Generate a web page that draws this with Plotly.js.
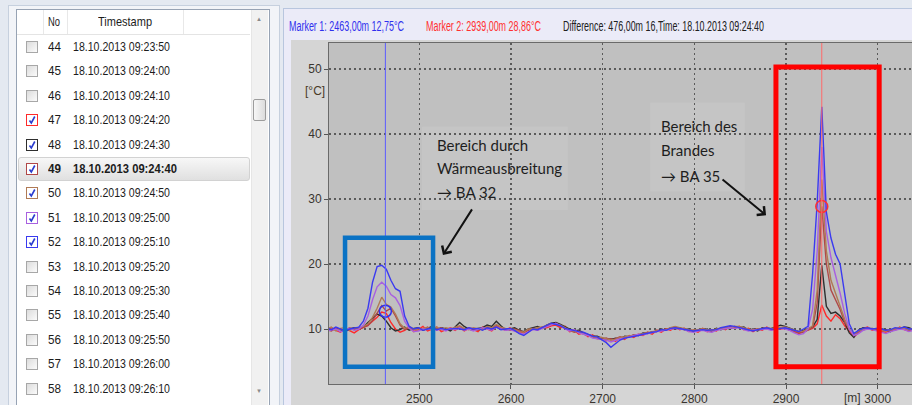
<!DOCTYPE html>
<html><head><meta charset="utf-8">
<script src="https://cdn.plot.ly/plotly-3.0.1.min.js"></script>
<style>
html,body{margin:0;padding:0;}
body{width:912px;height:405px;overflow:hidden;background:#e4e9f1;position:relative;font-family:"Liberation Sans Narrow","Arial Narrow","Liberation Sans",Arial,sans-serif;}
.abs{position:absolute;}
.fit{position:absolute;white-space:nowrap;transform-origin:0 50%;line-height:14px;height:14px;}
</style></head>
<body>
<div class="abs" style="left:8px;top:5px;width:270px;height:410px;background:#f2f4f8;border:1px solid #c6d0de;"></div>
<div class="abs" id="list" style="left:16px;top:9px;width:252px;height:400px;background:#fff;border:1px solid #97a3b4;"></div>
<div class="abs" style="left:283px;top:8px;width:640px;height:410px;background:#ebebf8;border-left:1px solid #b8c6de;border-top:1px solid #b8c6de;"></div>
<div id="plot" class="abs" style="left:291px;top:40px;width:640px;height:370px;"></div>
<script>
// ---------------- data ----------------
const rowNo = [44,45,46,47,48,49,50,51,52,53,54,55,56,57,58];
const rowTime = ["18.10.2013 09:23:50","18.10.2013 09:24:00","18.10.2013 09:24:10","18.10.2013 09:24:20","18.10.2013 09:24:30","18.10.2013 09:24:40","18.10.2013 09:24:50","18.10.2013 09:25:00","18.10.2013 09:25:10","18.10.2013 09:25:20","18.10.2013 09:25:30","18.10.2013 09:25:40","18.10.2013 09:25:50","18.10.2013 09:26:00","18.10.2013 09:26:10"];
const selectedNo = 49;
const seriesNo = [47,48,49,50,51,52];
const seriesColor = ["#ff2a2a","#2e2e2e","#b04848","#b07a55","#a860e0","#3a3af0"];

const distance = [
2399,2404,2409,2414,2419,2424,2429,2434,2439,2444,
2449,2454,2459,2464,2469,2474,2479,2484,2489,2494,
2499,2504,2509,2514,2519,2524,2529,2534,2539,2544,
2549,2554,2559,2564,2569,2574,2579,2584,2589,2594,
2599,2604,2609,2614,2619,2624,2629,2634,2639,2644,
2649,2654,2659,2664,2669,2674,2679,2684,2689,2694,
2699,2704,2709,2714,2719,2724,2729,2734,2739,2744,
2749,2754,2759,2764,2769,2774,2779,2784,2789,2794,
2799,2804,2809,2814,2819,2824,2829,2834,2839,2844,
2849,2854,2859,2864,2869,2874,2879,2884,2889,2894,
2899,2904,2909,2914,2919,2924,2929,2934,2939,2944,
2949,2954,2959,2964,2969,2974,2979,2984,2989,2994,
2999,3004,3009,3014,3019,3024,3029,3034,3039];

const temp47 = [
9.6,10.2,9.8,9.5,10.1,9.7,9.4,9.9,10.2,10.6,
11.2,11.8,12.6,12.4,11.0,10.0,9.5,9.8,10.3,9.6,
9.9,10.4,9.7,10.0,10.3,9.6,9.9,10.2,9.8,10.3,
9.7,10.1,9.9,9.6,10.3,10.0,9.7,10.4,10.1,9.8,
10.2,9.7,9.5,9.4,9.9,10.1,9.8,10.3,10.2,10.5,
10.6,10.2,10.4,9.6,9.8,9.2,9.4,8.8,9.1,8.5,
8.7,8.2,8.5,8.1,8.7,8.4,9.0,8.7,9.2,9.0,
9.5,9.2,9.8,9.5,10.0,9.8,10.3,9.9,10.1,9.6,
9.8,9.5,10.0,9.6,9.9,9.7,10.2,9.9,10.4,10.1,
10.4,9.9,10.1,9.6,10.0,9.8,10.3,9.9,10.2,10.0,
10.1,9.8,9.5,9.3,9.6,9.8,10.1,10.8,13.7,12.0,
11.2,12.2,11.6,10.5,9.6,8.8,9.4,10.1,10.3,9.8,
10.0,9.6,9.5,9.9,9.8,10.3,9.9,9.7,10.1];

const temp48 = [
10.1,9.8,10.2,9.9,9.6,10.0,10.2,10.1,10.3,11.0,
11.6,12.3,12.0,11.2,10.2,9.7,9.9,10.3,9.8,10.1,
10.2,9.8,10.1,10.4,9.9,10.2,10.0,9.7,10.3,11.0,
10.4,10.0,9.8,10.1,10.2,10.6,10.4,11.2,10.5,9.9,
10.0,10.2,9.8,9.6,10.0,10.2,10.4,10.1,10.6,10.9,
11.0,10.7,10.3,10.0,9.7,9.8,9.4,9.2,8.9,8.9,
8.6,8.5,8.4,8.6,8.5,8.9,8.8,9.1,9.0,9.4,
9.3,9.6,9.6,10.0,9.8,10.2,10.0,10.2,9.9,10.0,
9.6,9.9,9.8,10.0,9.6,10.1,9.9,10.2,10.0,10.4,
10.2,10.3,9.8,10.0,9.7,10.2,10.0,10.1,10.4,10.6,
10.4,10.1,9.8,9.6,9.8,10.0,10.3,11.5,19.8,13.5,
12.4,12.6,12.0,11.0,9.4,8.7,9.8,10.2,10.0,10.1,
9.8,10.0,9.9,9.6,10.1,10.0,10.3,10.2,9.9];

const temp49 = [
9.9,9.7,10.1,10.0,9.8,10.2,9.9,10.0,10.2,10.5,
11.3,12.5,13.6,12.75,13.2,12.0,10.6,9.9,10.2,9.9,
10.1,9.9,10.3,9.8,10.0,10.2,9.8,10.1,10.0,10.4,
9.9,10.2,10.0,9.8,10.1,10.3,10.0,10.6,10.2,10.0,
9.8,10.0,9.7,9.5,9.8,10.1,10.0,10.2,10.5,10.6,
10.9,10.4,10.1,9.9,9.5,9.7,9.2,9.0,8.8,8.6,
8.4,8.6,8.3,8.5,8.8,8.6,8.9,9.1,9.0,9.3,
9.5,9.4,9.8,9.7,10.0,10.1,10.3,10.0,10.1,9.7,
9.8,9.7,10.1,9.8,9.7,9.9,10.1,10.0,10.3,10.2,
10.3,10.0,9.8,9.9,10.0,10.1,10.2,9.9,10.0,10.2,
10.1,9.9,9.6,9.4,9.5,9.8,10.2,14.0,28.86,20.0,
16.0,14.5,13.0,11.0,9.9,9.0,9.6,9.9,10.1,10.0,
9.9,9.7,9.8,9.7,10.0,10.1,10.0,9.8,10.0];

const temp50 = [
10.0,10.3,9.7,10.1,10.2,9.8,10.1,10.2,10.4,10.8,
11.8,13.2,14.9,13.8,13.4,12.3,10.8,10.1,10.4,10.0,
9.8,10.1,10.2,9.9,10.3,9.9,10.2,10.0,10.2,10.5,
10.1,9.9,10.2,10.0,9.9,10.4,10.2,10.7,10.3,10.1,
10.0,9.9,9.6,9.5,10.0,10.0,10.2,10.3,10.6,10.8,
10.8,10.6,10.2,9.8,9.7,9.5,9.3,9.1,8.9,8.7,
8.7,8.5,8.3,8.4,8.7,8.8,8.9,9.0,9.2,9.3,
9.4,9.6,9.7,9.9,9.9,10.2,10.4,10.2,10.0,9.9,
9.8,9.9,10.0,9.9,9.8,10.0,10.1,10.2,10.1,10.4,
10.4,10.2,10.0,9.8,10.0,10.0,10.2,10.1,10.2,10.3,
10.3,10.1,9.8,9.6,9.7,10.0,10.5,16.0,33.0,22.0,
17.5,15.5,13.5,11.5,10.0,9.2,9.7,10.0,10.2,10.0,
10.1,9.8,9.7,9.9,10.0,10.2,10.1,9.9,10.1];

const temp51 = [
9.7,9.9,10.0,9.6,9.9,10.1,9.8,10.0,10.6,12.0,
14.5,16.5,17.2,16.6,15.3,14.8,13.6,11.2,10.1,9.6,
9.7,10.0,9.9,10.1,9.8,10.0,9.7,10.1,9.9,10.2,
9.8,10.0,9.7,9.9,10.2,10.0,9.8,10.3,10.0,9.8,
9.9,9.6,9.4,9.2,9.6,9.9,9.8,10.1,10.4,10.7,
10.9,10.5,10.0,9.7,9.9,9.4,9.2,9.0,8.6,8.5,
8.5,8.3,8.0,8.3,8.5,8.6,8.8,8.9,9.2,9.1,
9.3,9.4,9.6,9.7,9.8,10.0,10.1,10.0,9.9,9.6,
9.5,9.7,9.8,9.6,9.5,9.8,9.9,10.0,10.2,10.1,
10.2,9.9,9.7,9.8,9.9,9.9,10.0,9.8,9.9,10.1,
10.0,9.8,9.4,9.1,9.3,10.0,13.0,22.0,38.0,25.0,
21.0,18.3,15.5,12.4,10.0,9.0,9.3,9.8,10.0,9.9,
9.7,9.5,9.3,9.6,9.8,10.0,9.9,9.6,9.8];

const temp52 = [
10.2,9.9,10.3,10.0,9.7,10.0,10.1,10.3,11.2,13.2,
17.2,19.6,19.8,19.2,17.5,16.2,15.8,12.0,10.4,10.0,
10.2,9.8,10.0,10.2,9.9,10.1,9.9,10.0,10.1,10.0,
9.9,10.2,10.0,10.1,9.8,10.2,10.0,10.3,9.9,10.0,
10.1,9.8,9.3,9.0,9.5,10.0,9.9,10.2,10.6,10.9,
10.7,10.5,10.1,9.9,9.8,9.6,9.5,9.2,8.9,8.8,
8.4,7.9,7.2,7.8,8.3,8.6,8.7,8.9,9.0,9.2,
9.4,9.5,9.6,9.9,9.8,10.1,10.2,10.1,10.0,9.8,
9.7,9.8,9.9,9.8,9.8,9.9,10.2,10.3,10.5,10.4,
10.2,10.0,9.9,9.7,9.9,10.0,10.2,10.0,9.9,10.1,
10.2,10.0,9.8,9.6,10.0,10.4,18.5,29.5,44.2,28.0,
24.0,21.5,20.0,15.0,10.8,9.3,9.8,10.1,10.2,10.0,
10.1,10.0,9.8,9.9,10.2,10.1,10.3,10.0,10.0];

const markerPos = [2463, 2939];
const markerTemp = [12.75, 28.86];
const markerColor = ["#3030ee", "#ff3030"];
const differenceText = "476,00m 16";
const xTicks = [2500, 2600, 2700, 2800, 2900, 3000];
const yTicks = [10, 20, 30, 40, 50];
const fireBox = {x: [2889, 3001.6], y: [4.2, 50.3]};
const heatBox = {x: [2419, 2515], y: [4.2, 24.05]};

// --------------- left list panel ---------------
function addText(txt, left, cy, width, opts) {
  const el = document.createElement('div');
  el.className = 'fit';
  el.textContent = txt;
  el.style.left = left + 'px';
  el.style.top = (cy - 7) + 'px';
  el.style.fontSize = (opts && opts.size || 13) + 'px';
  el.style.color = (opts && opts.color) || '#1c1c1c';
  if (opts && opts.bold) el.style.fontWeight = 'bold';
  document.body.appendChild(el);
  const w = el.getBoundingClientRect().width;
  if (width && w > 0) el.style.transform = 'scaleX(' + (width / w) + ')';
  return el;
}
function addBox(left, top, w, h, css) {
  const el = document.createElement('div');
  el.className = 'abs';
  el.style.left = left + 'px'; el.style.top = top + 'px';
  el.style.width = w + 'px'; el.style.height = h + 'px';
  Object.assign(el.style, css || {});
  document.body.appendChild(el);
  return el;
}
// header row
addBox(17, 10, 233, 24, {background: '#fff', borderBottom: '1px solid #e4e4e4'});
[43, 67, 183].forEach(x => addBox(x, 10, 1, 24, {background: '#e8e8e8'}));
addText('No', 48, 22, 12, {size: 13});
addText('Timestamp', 98, 22, 54, {size: 13});
// scrollbar
addBox(251, 10, 16, 398, {background: '#f1f1f1', borderLeft: '1px solid #e6e6e6'});
addBox(253, 99, 13, 22, {background: 'linear-gradient(90deg,#f6f6f6,#dcdcdc)', border: '1px solid #9c9c9c', borderRadius: '2px', boxSizing: 'border-box'});
addText('\u25B2', 256, 19, 6, {size: 6, color: '#8a8a8a'});
addText('\u25BC', 256, 391, 6, {size: 6, color: '#8a8a8a'});

const rowStep = 24.4;
rowNo.forEach((no, i) => {
  const cy = 47 + rowStep * i;
  const sel = no === selectedNo;
  if (sel) addBox(18, cy - 12, 232, 24, {background: 'linear-gradient(#f7f7f7,#e0e0e0)', border: '1px solid #d2d2d2', borderRadius: '3px', boxSizing: 'border-box'});
  const si = seriesNo.indexOf(no);
  const checked = si >= 0;
  const cb = addBox(26, cy - 6, 12, 12, {
    border: '1px solid ' + (checked ? seriesColor[si] : '#a7a7a7'),
    background: checked ? '#ffffff' : 'linear-gradient(135deg,#dcdcdc,#fbfbfb)',
    boxSizing: 'border-box'
  });
  if (checked) {
    cb.innerHTML = '<svg width="10" height="10" style="position:absolute;left:0;top:0"><path d="M2.5,5.5 L4.3,8 L7.8,1.5" stroke="#2a3ccf" stroke-width="1.6" fill="none"/></svg>';
  }
  addText(String(no), 48, cy, 13, {size: 13, bold: sel});
  addText(rowTime[i], 73, cy, sel ? 104 : 97, {size: 13, bold: sel});
});

// --------------- right panel header ---------------
const fmt = v => v.toFixed(2).replace('.', ',');
addText('Marker 1: ' + fmt(markerPos[0]) + 'm ' + fmt(markerTemp[0]) + '\u00B0C', 289, 26, 115, {size: 14, color: markerColor[0]});
addText('Marker 2: ' + fmt(markerPos[1]) + 'm ' + fmt(markerTemp[1]) + '\u00B0C', 426, 26, 115, {size: 14, color: markerColor[1]});
addText('Difference: ' + differenceText + ',Time: ' + rowTime[rowNo.indexOf(selectedNo)], 563, 26, 201, {size: 14, color: '#202020'});

// --------------- chart ---------------
const traces = seriesNo.map((no, k) => ({
  x: distance,
  y: [temp47, temp48, temp49, temp50, temp51, temp52][k],
  type: 'scatter', mode: 'lines', name: String(no),
  line: {color: seriesColor[k], width: 1.4},
  hoverinfo: 'skip'
}));
markerPos.forEach((p, k) => traces.push({
  x: [p], y: [markerTemp[k]], type: 'scatter', mode: 'markers',
  marker: {symbol: 'circle-open', size: 12, color: markerColor[k], line: {width: 1.5, color: markerColor[k]}},
  hoverinfo: 'skip'
}));

const textFont = {family: 'Lato, "Open Sans", sans-serif', size: 15, color: '#1e1e1e'};
function lineAnn(text, x, y) {
  return {text: text, x: x, y: y, xref: 'x', yref: 'y', xanchor: 'left', yanchor: 'middle', showarrow: false, font: textFont};
}
const pxX = 0.9168, pxY = 6.5;
const layout = {
  width: 640, height: 370,
  margin: {l: 38, r: 0, t: 3, b: 26},
  paper_bgcolor: '#d5d5d5', plot_bgcolor: '#c0c0c0',
  showlegend: false,
  xaxis: {range: [2401.5, 2401.5 + 602 / pxX], tickvals: xTicks, ticks: 'outside', ticklen: 4, tickcolor: '#555',
          showline: true, linecolor: '#6a6a6a', mirror: true, showgrid: true, gridcolor: '#5a5a5a', griddash: '2px,3px', gridwidth: 1.3,
          zeroline: false, tickfont: {family: 'Liberation Sans, Arial, sans-serif', size: 12, color: '#3a3530'}, fixedrange: true},
  yaxis: {range: [1.54, 54.0], tickvals: yTicks, ticks: 'outside', ticklen: 4, tickcolor: '#555',
          showline: true, linecolor: '#6a6a6a', showgrid: true, gridcolor: '#5a5a5a', griddash: '2px,3px', gridwidth: 1.3,
          zeroline: false, tickfont: {family: 'Liberation Sans, Arial, sans-serif', size: 12, color: '#3a3530'}, fixedrange: true},
  shapes: [
    {type: 'rect', xref: 'x', yref: 'y', x0: 2503, x1: 2662, y0: 28.3, y1: 41.1, fillcolor: '#c5c5c5', line: {width: 0}, layer: 'below'},
    {type: 'rect', xref: 'x', yref: 'y', x0: 2752, x1: 2855, y0: 31.2, y1: 44.8, fillcolor: '#c5c5c5', line: {width: 0}, layer: 'below'},
    {type: 'line', xref: 'x', yref: 'paper', x0: markerPos[0], x1: markerPos[0], y0: 0, y1: 1, line: {color: '#5a5aff', width: 1}},
    {type: 'line', xref: 'x', yref: 'paper', x0: markerPos[1], x1: markerPos[1], y0: 0, y1: 1, line: {color: '#ff6a6a', width: 1}},
    {type: 'rect', xref: 'x', yref: 'y', x0: heatBox.x[0], x1: heatBox.x[1], y0: heatBox.y[0], y1: heatBox.y[1], line: {color: '#0a72c4', width: 4.5}, layer: 'above'},
    {type: 'rect', xref: 'x', yref: 'y', x0: fireBox.x[0], x1: fireBox.x[1], y0: fireBox.y[0], y1: fireBox.y[1], line: {color: '#ff0000', width: 5}, layer: 'above'}
  ],
  annotations: [
    {text: '[\u00B0C]', xref: 'paper', x: 0, xanchor: 'right', xshift: -2, yref: 'y', y: 46.6, yanchor: 'middle', showarrow: false,
     font: {family: 'Liberation Sans, Arial, sans-serif', size: 12, color: '#4a3a28'}},
    {text: '[m]', xref: 'x', x: 2973, xanchor: 'center', yref: 'paper', y: 0, yanchor: 'top', yshift: -5, showarrow: false,
     font: {family: 'Liberation Sans, Arial, sans-serif', size: 12, color: '#3a3530'}},
    lineAnn('Bereich durch', 2517, 10 + (329 - 145) / pxY),
    lineAnn('W\u00E4rmeausbreitung', 2517, 10 + (329 - 168) / pxY),
    lineAnn('\u2192 BA 32', 2517, 10 + (329 - 192) / pxY),
    lineAnn('Bereich des', 2761, 10 + (329 - 126) / pxY),
    lineAnn('Brandes', 2761, 10 + (329 - 150) / pxY),
    lineAnn('\u2192 BA 35', 2761, 10 + (329 - 176) / pxY),
    {text: '', xref: 'x', yref: 'y', x: 2525.8, y: 21.4, ax: 30, ay: -47, showarrow: true, arrowhead: 4, arrowsize: 1.1, arrowwidth: 2, arrowcolor: '#111'},
    {text: '', xref: 'x', yref: 'y', x: 2878.2, y: 27.5, ax: -45, ay: -37, showarrow: true, arrowhead: 4, arrowsize: 1.1, arrowwidth: 2, arrowcolor: '#111'}
  ]
};
Plotly.newPlot('plot', traces, layout, {staticPlot: true, displayModeBar: false});
</script>
</body></html>
